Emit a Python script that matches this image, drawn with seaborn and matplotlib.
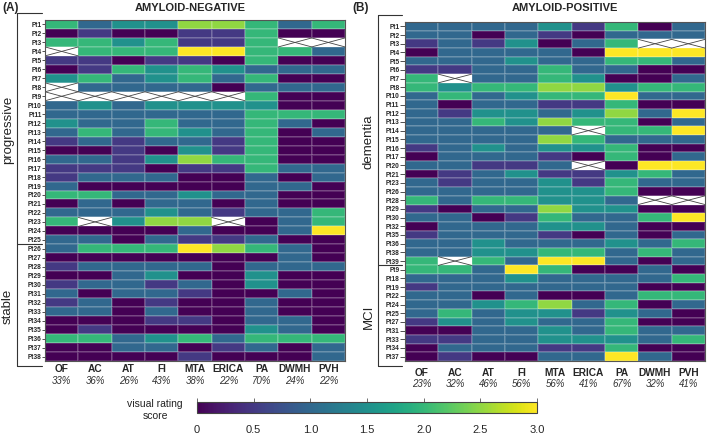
import numpy as np
import pandas as pd
import matplotlib
matplotlib.use("Agg")
import matplotlib.pyplot as plt
import seaborn as sns
from matplotlib.lines import Line2D
from matplotlib import transforms

sns.set_theme(style="white")
plt.rcParams['font.family'] = ['Liberation Sans', 'DejaVu Sans']

regions = ["OF", "AC", "AT", "FI", "MTA", "ERICA", "PA", "DWMH", "PVH"]
N = np.nan

# Amyloid-negative
neg_patients = [f"Pt{i}" for i in range(1, 39)]
neg_groups = ["progressive"] * 25 + ["stable"] * 13
neg_pct = ["33%", "36%", "26%", "43%", "38%", "22%", "70%", "24%", "22%"]
neg_values = [
    [2, 1, 1.5, 1.5, 2.5, 2.5, 2, 1, 2],
    [0, 0.5, 0, 0, 0.5, 0.5, 2, 0, 0],
    [2, 2, 1.5, 2, 0.5, 0.5, 2, N, N],
    [N, 2, 2, 2, 3, 3, 2, 2, 1],
    [0.5, 0.5, 0, 0.5, 0.5, 0, 2, 0, 0],
    [0, 0.5, 2, 1.5, 2, 1.5, 1, 1, 1],
    [1.5, 2, 1, 1.5, 2, 1, 2, 0, 0],
    [N, 1, 1, 1, 1, 0, 1, 1, 1],
    [N, N, N, N, N, N, 2, 0, 0],
    [1, 1.5, 1, 1.5, 1.5, 1.5, 1.5, 0, 0],
    [1, 1, 1, 1, 1, 1, 2, 2, 2],
    [1.5, 1, 1, 2, 1, 1, 2, 1, 0],
    [1, 2, 1, 2, 1.5, 1, 2, 0, 1],
    [0.5, 1, 0.5, 1, 1, 0.5, 2, 0, 0],
    [0, 0, 0.5, 0, 1.5, 0.5, 2, 0, 0],
    [1, 1, 0.5, 1.5, 2.5, 2, 2, 0, 0],
    [0.5, 0.5, 0.5, 0, 0.5, 0.5, 2, 1, 1],
    [0.5, 1, 1, 1, 0, 0, 1, 0, 1],
    [1, 0, 0, 0, 0, 0, 1, 1, 0],
    [2, 2, 1, 1, 1.5, 1, 1, 0, 0],
    [0, 1, 0, 1, 1, 0, 1, 0, 0],
    [1, 1, 1, 1.5, 1, 0.5, 1, 1, 2],
    [2, N, 1.5, 2.5, 2.5, N, 0, 1, 2],
    [0, 0, 0, 0, 1, 0, 0, 1, 3],
    [1, 1, 0, 1, 0.5, 0.5, 1, 0, 0],
    [1, 2, 2, 2, 3, 2.5, 2, 1, 0],
    [0, 0, 0, 0, 0, 0, 0, 1, 0],
    [0.5, 1, 1, 1, 1, 0, 1, 1, 1],
    [0, 0, 1, 1.5, 0, 0, 1.5, 0, 0],
    [0.5, 1, 1, 0.5, 1, 0, 1.5, 0, 0],
    [1, 0, 1, 1, 0.5, 0, 0, 1, 0],
    [0.5, 1, 0, 0.5, 0, 0, 1, 0, 0],
    [1, 1, 0, 1, 0, 0, 1, 0, 0],
    [0, 0, 0, 0.5, 0.5, 0, 1, 1, 0],
    [0, 0.5, 0, 0, 0, 0, 1.5, 1, 0],
    [2, 2, 1, 1.5, 2, 1, 2, 2, 2],
    [0, 0, 1, 1, 0, 0.5, 1, 0, 1],
    [0, 0, 0, 0, 0.5, 0, 0, 0, 1],
]

# Amyloid-positive
pos_patients = ["Pt1", "Pt2", "Pt3", "Pt4", "Pt5", "Pt6", "Pt7", "Pt8", "Pt10", "Pt11",
                "Pt12", "Pt13", "Pt14", "Pt15", "Pt16", "Pt17", "Pt20", "Pt21", "Pt23",
                "Pt26", "Pt28", "Pt29", "Pt30", "Pt32", "Pt35", "Pt36", "Pt38", "Pt39",
                "Pt9", "Pt18", "Pt19", "Pt22", "Pt24", "Pt25", "Pt27", "Pt31", "Pt33",
                "Pt34", "Pt37"]
pos_groups = ["dementia"] * 28 + ["MCI"] * 11
pos_pct = ["23%", "32%", "46%", "56%", "56%", "41%", "67%", "32%", "41%"]
pos_values = [
    [1, 1, 1, 1, 1.5, 0.5, 2, 0, 1],
    [1, 1, 0, 1, 0.5, 0, 1, 1, 1],
    [0.5, 1, 0.5, 1.5, 0, 1, 2, N, N],
    [0, 1, 1, 1, 1, 0, 3, 3, 3],
    [1, 1, 1, 1.5, 1, 1, 2, 2, 1],
    [0.5, 0.5, 1, 1, 2, 1, 1, 0, 0],
    [2, N, 1, 1, 2, 1.5, 0, 0, 1],
    [2, 1.5, 2, 2, 2.5, 2.5, 1.5, 2, 2],
    [1, 2, 1, 1.5, 2, 2, 3, 1, 1],
    [1, 0, 1, 1, 0.5, 0.5, 2, 0, 0],
    [1, 0.5, 1.5, 1.5, 1, 1.5, 2.5, 1, 3],
    [1, 1, 2, 1.5, 2.5, 2, 2, 0, 1],
    [1, 1, 1, 1, 1, N, 2, 2, 3],
    [1, 1, 1, 1, 2.5, 2, 1, 1, 1],
    [0.5, 1, 1.5, 1, 1.5, 1.5, 2, 0, 0],
    [0, 1, 1, 1, 0.5, 0, 2, 0, 1],
    [1, 1, 0.5, 0.5, 1, N, 0, 3, 3],
    [0, 0.5, 1, 1.5, 0.5, 0.5, 1.5, 2, 1],
    [1, 0.5, 1, 1, 1.5, 0.5, 2, 1, 1],
    [1, 1, 1, 1, 1.5, 1.5, 2, 0, 0],
    [2, 1, 2, 2, 1.5, 1.5, 1, N, N],
    [0.5, 0, 1, 1, 2.5, 1.5, 1.5, 0, 0],
    [1, 1, 0, 0.5, 2, 1, 1, 2, 3],
    [0, 1, 1, 1, 1.5, 1.5, 1, 0, 0],
    [0.5, 1, 1, 1, 0.5, 0, 1, 0, 1],
    [1, 1, 1.5, 1, 1, 1, 1.5, 1, 2],
    [1, 1, 1.5, 1.5, 2, 2, 1, 2, 1],
    [2, N, 2, 1, 3, 3, 1, 0, 1],
    [2, 2, 1, 3, 2, 0, 0, 1, 0],
    [1, 1, 1, 1.5, 1, 1, 1, 1, 2],
    [0.5, 1, 1, 1, 1, 1, 1, 0, 0],
    [1, 1, 0, 1, 0, 0, 1, 2, 2],
    [1, 1, 1.5, 2, 2.5, 1, 2, 0, 1],
    [1, 2, 1, 1.5, 1.5, 0.5, 1.5, 1, 0],
    [0.5, 1.5, 1, 1.5, 1, 1, 2, 0, 0],
    [0, 0, 1, 1, 1.5, 1, 2, 1, 1],
    [0.5, 0.5, 1, 1, 1.5, 1.5, 1.5, 1, 2],
    [0, 1, 1, 1, 0.5, 0.5, 2, 0, 0],
    [0, 0.5, 0, 0, 1, 1, 3, 1, 0],
]

W, H = 709, 435
fig = plt.figure(figsize=(W / 100, H / 100), dpi=100)

def px(x0, y0, x1, y1):
    return [x0 / W, 1 - y1 / H, (x1 - x0) / W, (y1 - y0) / H]

ax_l = fig.add_axes(px(45, 21, 345, 362))
ax_r = fig.add_axes(px(405, 23, 705, 362))
cax = fig.add_axes(px(197, 403, 537, 414))

def draw(ax, values, patients, groups, pct, title, letter, letter_x, title_x,
         bracket_x, tick_len, lab_pad, pct_y):
    df = pd.DataFrame(values, index=patients, columns=regions)
    sns.heatmap(df, ax=ax, cmap="viridis", vmin=0, vmax=3, cbar=False,
                linewidths=0.25, linecolor=(1, 1, 1, 0.15))
    # NaN cells: white with an X
    rr, cc = np.where(df.isna().values)
    for r, c in zip(rr, cc):
        ax.plot([c, c + 1], [r, r + 1], color="#444444", lw=0.6)
        ax.plot([c, c + 1], [r + 1, r], color="#444444", lw=0.6)
    for s in ax.spines.values():
        s.set_visible(True)
        s.set_color("#555555")
        s.set_linewidth(0.8)
    ax.set_yticks(np.arange(len(patients)) + 0.5)
    ax.set_yticklabels(patients, rotation=0, fontsize=4.7, fontweight="bold")
    ax.set_xticks(np.arange(len(regions)) + 0.5)
    ax.set_xticklabels(regions, rotation=0, fontsize=7.3, fontweight="bold")
    ax.tick_params(axis="y", length=tick_len, width=0.6, pad=0.5, left=True, color="#333333")
    ax.tick_params(axis="x", length=0, pad=lab_pad)
    ax.set_xlabel("")
    ax.set_ylabel("")
    trans = transforms.blended_transform_factory(ax.transData, ax.transAxes)
    for i, p in enumerate(pct):
        ax.text(i + 0.5, pct_y, p, transform=trans, ha="center", va="center",
                fontsize=7.0, fontstyle="italic", color="#333333")
    # group brackets
    names = list(dict.fromkeys(groups))
    bounds = [0]
    for g in names:
        bounds.append(bounds[-1] + groups.count(g))
    tb = transforms.blended_transform_factory(ax.transAxes, ax.transData)
    n = len(patients)
    top = -0.02 * n
    bottom = n + 0.015 * n
    edges = [top] + bounds[1:-1] + [bottom]
    ax.add_line(Line2D([bracket_x, bracket_x], [top, bottom], transform=tb,
                       color="#333333", lw=0.8, clip_on=False))
    for e in edges:
        ax.add_line(Line2D([bracket_x, -0.01], [e, e], transform=tb,
                           color="#333333", lw=0.8, clip_on=False))
    for k, g in enumerate(names):
        mid = (edges[k] + edges[k + 1]) / 2
        ax.text(bracket_x - 0.03, mid, g, transform=tb, rotation=90, ha="center",
                va="center", fontsize=9.5, color="#222222")
    fig.text(letter_x / W, 1 - 8 / H, letter, fontsize=8.5, fontweight="bold",
             ha="left", va="center")
    fig.text(title_x / W, 1 - 8 / H, title, fontsize=8, fontweight="bold",
             ha="center", va="center")

draw(ax_l, neg_values, neg_patients, neg_groups, neg_pct, "AMYLOID-NEGATIVE",
     "(A)", 2, 190, (17 - 45) / 300, 2, 1.5, -0.055)
draw(ax_r, pos_values, pos_patients, pos_groups, pos_pct, "AMYLOID-POSITIVE",
     "(B)", 352, 565, (378 - 405) / 300, 3.5, 4.5, -0.064)

sm = plt.cm.ScalarMappable(cmap="viridis", norm=plt.Normalize(0, 3))
cb = fig.colorbar(sm, cax=cax, orientation="horizontal")
cb.set_ticks([0, 0.5, 1.0, 1.5, 2.0, 2.5, 3.0])
cb.set_ticklabels(["0", "0.5", "1.0", "1.5", "2.0", "2.5", "3.0"])
cb.ax.tick_params(labelsize=8, length=11, width=0.6, direction="in", color="#555555", pad=8)
cb.outline.set_linewidth(0.8)
cb.outline.set_edgecolor("#444444")
fig.text(155 / W, 1 - 410 / H, "visual rating\nscore", fontsize=7.5, ha="center",
         va="center", color="#222222", linespacing=1.15)

fig.savefig("out.png", dpi=100)
